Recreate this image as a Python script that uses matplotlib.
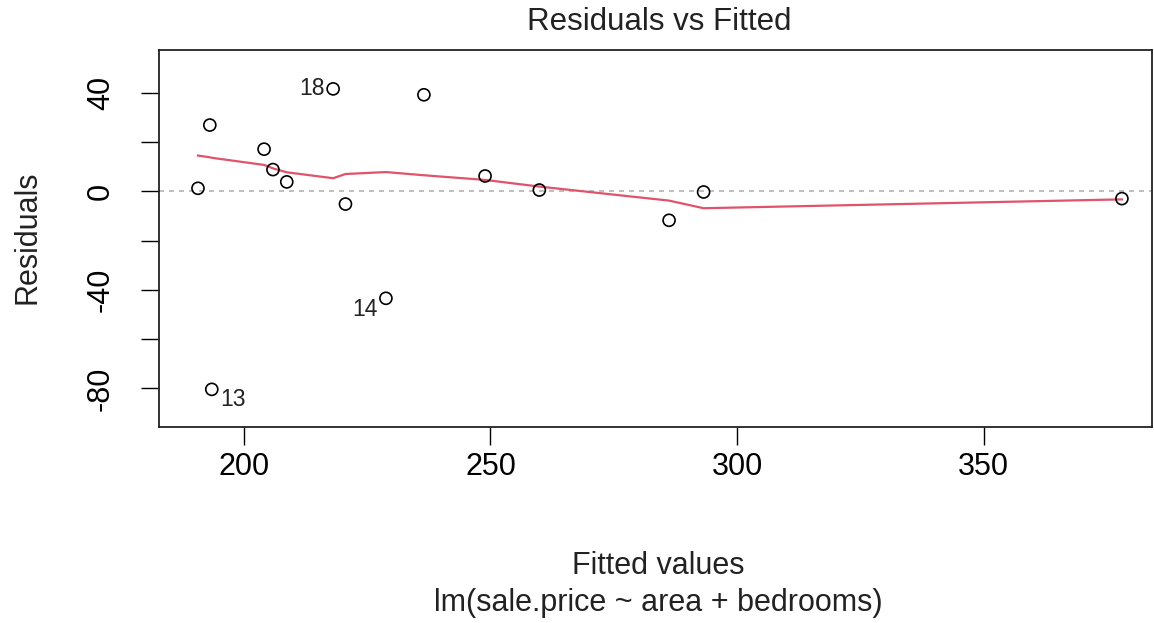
import numpy as np
import matplotlib
matplotlib.use("Agg")
import matplotlib.pyplot as plt
from matplotlib.ticker import MultipleLocator, FuncFormatter

plt.rcParams['font.family'] = ['Liberation Sans', 'DejaVu Sans']

# fitted values and residuals
fitted = [190.7, 193.1, 193.5, 204.1, 205.9, 208.7, 218.1, 220.6,
          228.8, 236.5, 248.9, 259.9, 286.2, 293.2, 378.0]
resid = [1.3, 27.0, -80.4, 17.2, 8.9, 3.9, 41.7, -5.1,
         -43.4, 39.3, 6.3, 0.6, -11.7, -0.2, -2.9]

# smoother (lowess) read at each fitted value
smooth = [14.6, 13.9, 13.7, 10.8, 9.4, 7.8, 5.4, 7.1,
          7.9, 6.6, 4.7, 2.0, -3.7, -6.8, -3.2]

# labelled observations
ids = ["13", "18", "14"]
id_x = [193.5, 218.1, 228.8]
id_y = [-80.4, 41.7, -43.4]

W, H = 1154, 623
fig = plt.figure(figsize=(W / 100, H / 100), dpi=100)
ax = fig.add_axes([159 / W, 1 - 427 / H, (1152 - 159) / W, (427 - 50) / H])

ax.axhline(0, color="#b4b4b4", lw=1.2, dashes=(3, 3), zorder=1)
ax.plot(fitted, smooth, color="#DF536B", lw=1.6, zorder=2)
ax.scatter(fitted, resid, s=75, facecolors="none", edgecolors="black",
           linewidths=1.2, zorder=3)

# R puts ids right of points left of the middle, left otherwise
mid = (min(id_x) + max(id_x)) / 2
offs = {"13": (6, -7), "18": (-6, 0), "14": (-6, -8)}
for lab, x, y in zip(ids, id_x, id_y):
    dx, dy = offs[lab]
    ax.annotate(lab, (x, y), xytext=(dx, dy), textcoords="offset points",
                ha="left" if x <= mid else "right", va="center",
                fontsize=16.5, color="#222222")

ax.set_xlim(182.8, 384.1)
ax.set_ylim(-95.7, 57.5)
ax.xaxis.set_major_locator(MultipleLocator(50))
ax.yaxis.set_major_locator(MultipleLocator(20))
ax.yaxis.set_major_formatter(FuncFormatter(
    lambda v, p: "%d" % round(v) if round(v) % 40 == 0 else ""))

ax.tick_params(axis="x", length=13, width=1, labelsize=22, pad=5)
ax.tick_params(axis="y", length=13, width=1, labelsize=22, pad=18)
for t in ax.get_yticklabels():
    t.set_rotation(90)
    t.set_va("center")
for s in ax.spines.values():
    s.set_linewidth(1.3)
    s.set_color("#222222")

fig.text(659 / W, 1 - 22 / H, "Residuals vs Fitted", ha="center",
         va="center", fontsize=22.5, color="#222222")
fig.text(658 / W, 1 - 566 / H, "Fitted values", ha="center", va="center",
         fontsize=22, color="#222222")
fig.text(658 / W, 1 - 603 / H, "lm(sale.price ~ area + bedrooms)",
         ha="center", va="center", fontsize=22, color="#222222")
fig.text(28 / W, 1 - 237 / H, "Residuals", ha="center", va="center",
         rotation=90, fontsize=22, color="#222222")

fig.savefig("out.png", dpi=100)
